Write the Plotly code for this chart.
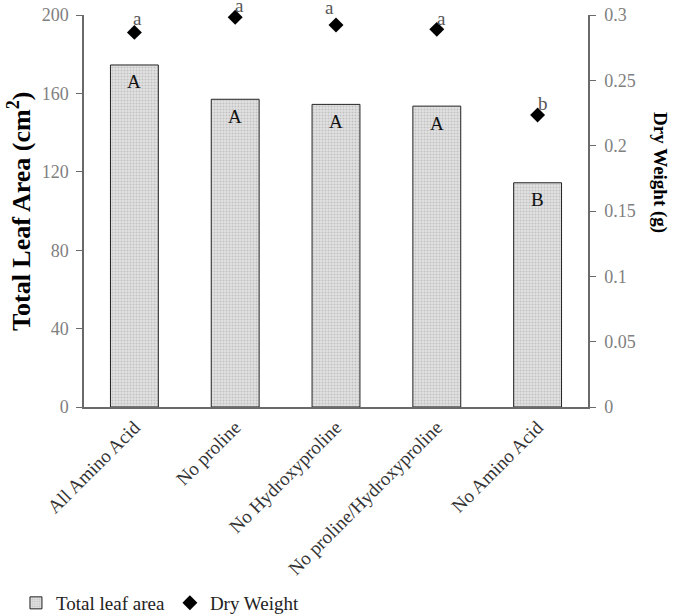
import plotly.graph_objects as go

categories = ["All Amino Acid", "No proline", "No Hydroxyproline",
              "No proline/Hydroxyproline", "No Amino Acid"]
leaf_area = [174.5, 157.0, 154.4, 153.5, 114.4]
dry_weight = [0.2867, 0.2982, 0.2923, 0.2890, 0.2234]
leaf_letters = ["A", "A", "A", "A", "B"]
dw_letters = ["a", "a", "a", "a", "b"]
left_ticks = [0, 40, 80, 120, 160, 200]
right_ticks = [0, 0.05, 0.1, 0.15, 0.2, 0.25, 0.3]
right_tick_text = ["0", "0.05", "0.1", "0.15", "0.2", "0.25", "0.3"]

FONT = "Liberation Serif"
AXIS_GREY = "#6a6a6a"
TICK_GREY = "#808080"

fig = go.Figure()
fig.add_trace(go.Bar(
    x=categories, y=leaf_area, name="Total leaf area",
    width=0.475,
    marker=dict(color="#e3e3e3",
                line=dict(color="#222222", width=1),
                pattern=dict(shape=".", fgcolor="#a0a0a0", size=3, solidity=0.4,
                             fillmode="overlay")),
    yaxis="y",
))
fig.add_trace(go.Scatter(
    x=categories, y=dry_weight, name="Dry Weight", mode="markers",
    marker=dict(symbol="diamond", size=11.5, color="black"),
    cliponaxis=False,
    yaxis="y2",
))

annotations = []
for c, v, t in zip(categories, leaf_area, leaf_letters):
    annotations.append(dict(x=c, y=v, xref="x", yref="y", text=t, showarrow=False,
                            yshift=-17, yanchor="middle",
                            font=dict(family=FONT, size=19, color="#111111")))
dw_shifts = [(3, 14), (4, 12), (-7, 18), (5, 11), (5, 12)]
for (c, v, t), (dx, dy) in zip(zip(categories, dry_weight, dw_letters), dw_shifts):
    annotations.append(dict(x=c, y=v, xref="x", yref="y2", text=t, showarrow=False,
                            xshift=dx, yshift=dy, yanchor="middle",
                            font=dict(family=FONT, size=19, color="#555555")))
annotations.append(dict(x=-0.129, y=0.5, xref="paper", yref="paper",
                        text="<b>Total Leaf Area (cm<sup>2</sup>)</b>", textangle=-90,
                        showarrow=False, xanchor="center", yanchor="middle",
                        font=dict(family=FONT, size=26, color="black")))
annotations.append(dict(x=1.143, y=0.599, xref="paper", yref="paper",
                        text="<b>Dry Weight (g)</b>", textangle=90,
                        showarrow=False, xanchor="center", yanchor="middle",
                        font=dict(family=FONT, size=19, color="black")))

fig.update_layout(
    width=675, height=616,
    margin=dict(l=84, r=87, t=15, b=209, autoexpand=False),
    paper_bgcolor="white", plot_bgcolor="white",
    font=dict(family=FONT, size=18, color="#333333"),
    showlegend=True,
    legend=dict(orientation="h", x=-0.135, y=-0.5, xanchor="left", yanchor="middle",
                font=dict(family=FONT, size=19, color="#222222"),
                itemwidth=30, tracegroupgap=0, bgcolor="rgba(0,0,0,0)"),
    xaxis=dict(showline=True, linecolor=AXIS_GREY, linewidth=1.5, ticks="",
               tickangle=-45, tickfont=dict(family=FONT, size=19, color="#333333"),
               showgrid=False, zeroline=False, automargin=False),
    yaxis=dict(range=[0, 200], tickvals=left_ticks, showline=True, linecolor=AXIS_GREY,
               linewidth=1.5, ticks="outside", ticklen=6, tickcolor=AXIS_GREY,
               ticklabelstandoff=4, ticklabeloverflow="allow",
               tickfont=dict(family=FONT, size=18, color=TICK_GREY),
               showgrid=False, zeroline=False, automargin=False),
    yaxis2=dict(range=[0, 0.3], tickvals=right_ticks, ticktext=right_tick_text,
                overlaying="y", side="right", showline=True, linecolor=AXIS_GREY,
                linewidth=1.5, ticks="outside", ticklen=6, tickcolor=AXIS_GREY,
                ticklabelstandoff=5, ticklabeloverflow="allow",
                tickfont=dict(family=FONT, size=18, color=TICK_GREY),
                showgrid=False, zeroline=False, automargin=False),
    annotations=annotations,
)

fig.write_html("out.html",
               config={"displayModeBar": False},
               post_script="document.body.style.margin='0px';document.body.style.overflow='hidden';")
